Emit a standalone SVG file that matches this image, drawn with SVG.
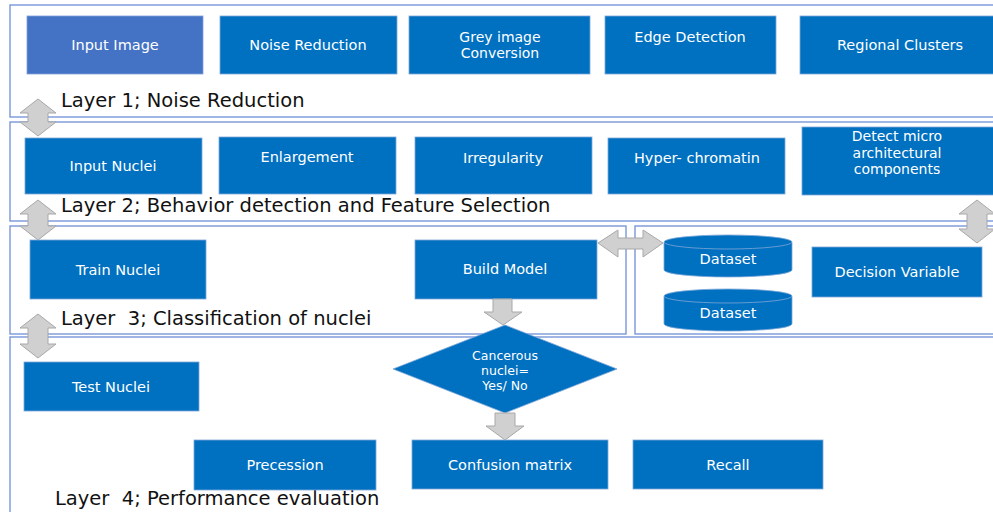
<svg xmlns="http://www.w3.org/2000/svg" width="993" height="512" viewBox="0 0 993 512">
<style>
.frame{fill:none;stroke:#6E8FD6;stroke-width:1.3}
.box{fill:#0070C0;stroke:#7FA7D9;stroke-width:0.8}
.bt{font-family:"DejaVu Sans",sans-serif;font-size:14.5px;fill:#FFFFFF;text-anchor:middle;dominant-baseline:central}
.mt{font-family:"DejaVu Sans",sans-serif;font-size:14px;fill:#FFFFFF;text-anchor:middle;dominant-baseline:central}
.st{font-family:"DejaVu Sans",sans-serif;font-size:12.5px;fill:#FFFFFF;text-anchor:middle;dominant-baseline:central}
.lt{font-family:"DejaVu Sans",sans-serif;font-size:19.5px;fill:#111111;white-space:pre}
.arr{fill:#D0D0D0;stroke:#A8A8A8;stroke-width:1}
</style>
<rect width="993" height="512" fill="#FFFFFF"/>
<g id="frames">
<rect class="frame" x="10" y="5" width="1000" height="112"/>
<rect class="frame" x="10" y="122" width="1000" height="99"/>
<rect class="frame" x="10" y="226" width="616" height="108"/>
<rect class="frame" x="635" y="226" width="400" height="108"/>
<rect class="frame" x="10" y="337" width="1000" height="200"/>
</g>
<g id="layer-labels">
<text class="lt" x="61" y="107">Layer 1; Noise Reduction</text>
<text class="lt" x="61" y="212">Layer 2; Behavior detection and Feature Selection</text>
<text class="lt" x="61" y="325">Layer  3; Classification of nuclei</text>
<text class="lt" x="55" y="505">Layer  4; Performance evaluation</text>
</g>
<g id="input-image"><rect x="27" y="16" width="176" height="58" fill="#4472C4" stroke="#7FA0DA" stroke-width="0.8"/><text class="bt" x="115" y="45">Input Image</text></g>
<g id="noise-reduction"><rect class="box" x="220" y="16" width="177" height="58"/><text class="bt" x="308" y="45">Noise Reduction</text></g>
<g id="grey-image"><rect class="box" x="409" y="16" width="181" height="58"/><text class="mt" x="500" y="37">Grey image</text><text class="mt" x="500" y="53">Conversion</text></g>
<g id="edge-detection"><rect class="box" x="605" y="16" width="171" height="58"/><text class="bt" x="690" y="37">Edge Detection</text></g>
<g id="regional-clusters"><rect class="box" x="800" y="16" width="200" height="58"/><text class="bt" x="900" y="45">Regional Clusters</text></g>
<g id="input-nuclei"><rect class="box" x="25" y="138" width="177" height="56"/><text class="bt" x="113" y="166">Input Nuclei</text></g>
<g id="enlargement"><rect class="box" x="219" y="137" width="177" height="57"/><text class="bt" x="307" y="157">Enlargement</text></g>
<g id="irregularity"><rect class="box" x="415" y="137" width="177" height="57"/><text class="bt" x="503" y="158">Irregularity</text></g>
<g id="hyper-chromatin"><rect class="box" x="608" y="138" width="177" height="56"/><text class="bt" x="697" y="158">Hyper- chromatin</text></g>
<g id="detect-micro"><rect class="box" x="802" y="127" width="200" height="68"/><text class="mt" x="897" y="136">Detect micro</text><text class="mt" x="897" y="152.5">architectural</text><text class="mt" x="897" y="169">components</text></g>
<g id="train-nuclei"><rect class="box" x="30" y="240" width="176" height="59"/><text class="bt" x="118" y="270">Train Nuclei</text></g>
<g id="build-model"><rect class="box" x="415" y="240" width="182" height="59"/><text class="bt" x="505" y="269">Build Model</text></g>
<g id="dataset-1"><path class="box" d="M664,242 V270 A64,7 0 0 0 792,270 V242 Z"/><ellipse class="box" cx="728" cy="242" rx="64" ry="7"/><text class="bt" x="728" y="259">Dataset</text></g>
<g id="dataset-2"><path class="box" d="M664,296 V324 A64,7 0 0 0 792,324 V296 Z"/><ellipse class="box" cx="728" cy="296" rx="64" ry="7"/><text class="bt" x="728" y="313">Dataset</text></g>
<g id="decision-variable"><rect class="box" x="812" y="247" width="170" height="50"/><text class="bt" x="897" y="272">Decision Variable</text></g>
<g id="cancerous"><polygon class="box" points="505,325 617,369 505,413 393,369"/><text class="st" x="505" y="355">Cancerous</text><text class="st" x="505" y="370">nuclei=</text><text class="st" x="505" y="385">Yes/ No</text></g>
<g id="test-nuclei"><rect class="box" x="24" y="362" width="175" height="49"/><text class="bt" x="111" y="387">Test Nuclei</text></g>
<g id="precession"><rect class="box" x="194" y="440" width="182" height="50"/><text class="bt" x="285" y="465">Precession</text></g>
<g id="confusion-matrix"><rect class="box" x="412" y="440" width="196" height="49"/><text class="bt" x="510" y="465">Confusion matrix</text></g>
<g id="recall"><rect class="box" x="633" y="440" width="190" height="49"/><text class="bt" x="728" y="465">Recall</text></g>
<g id="connectors">
<polygon class="arr" points="38,99 56,113 48,113 48,122 56,122 38,136 20,122 28,122 28,113 20,113"/>
<polygon class="arr" points="38,200 56,214 48,214 48,226 56,226 38,240 20,226 28,226 28,214 20,214"/>
<polygon class="arr" points="38,314 56,328 48,328 48,344 56,344 38,358 20,344 28,344 28,328 20,328"/>
<polygon class="arr" points="977,200 995,214 987,214 987,229 995,229 977,243 959,229 967,229 967,214 959,214"/>
<polygon class="arr" points="598,243 618,230 618,238 643,238 643,230 663,243 643,257 643,249 618,249 618,257"/>
<polygon class="arr" points="493,299 512,299 512,312 522,312 503,325 484,312 493,312"/>
<polygon class="arr" points="495,413 515,413 515,426 524,426 505,440 486,426 495,426"/>
</g>
</svg>
